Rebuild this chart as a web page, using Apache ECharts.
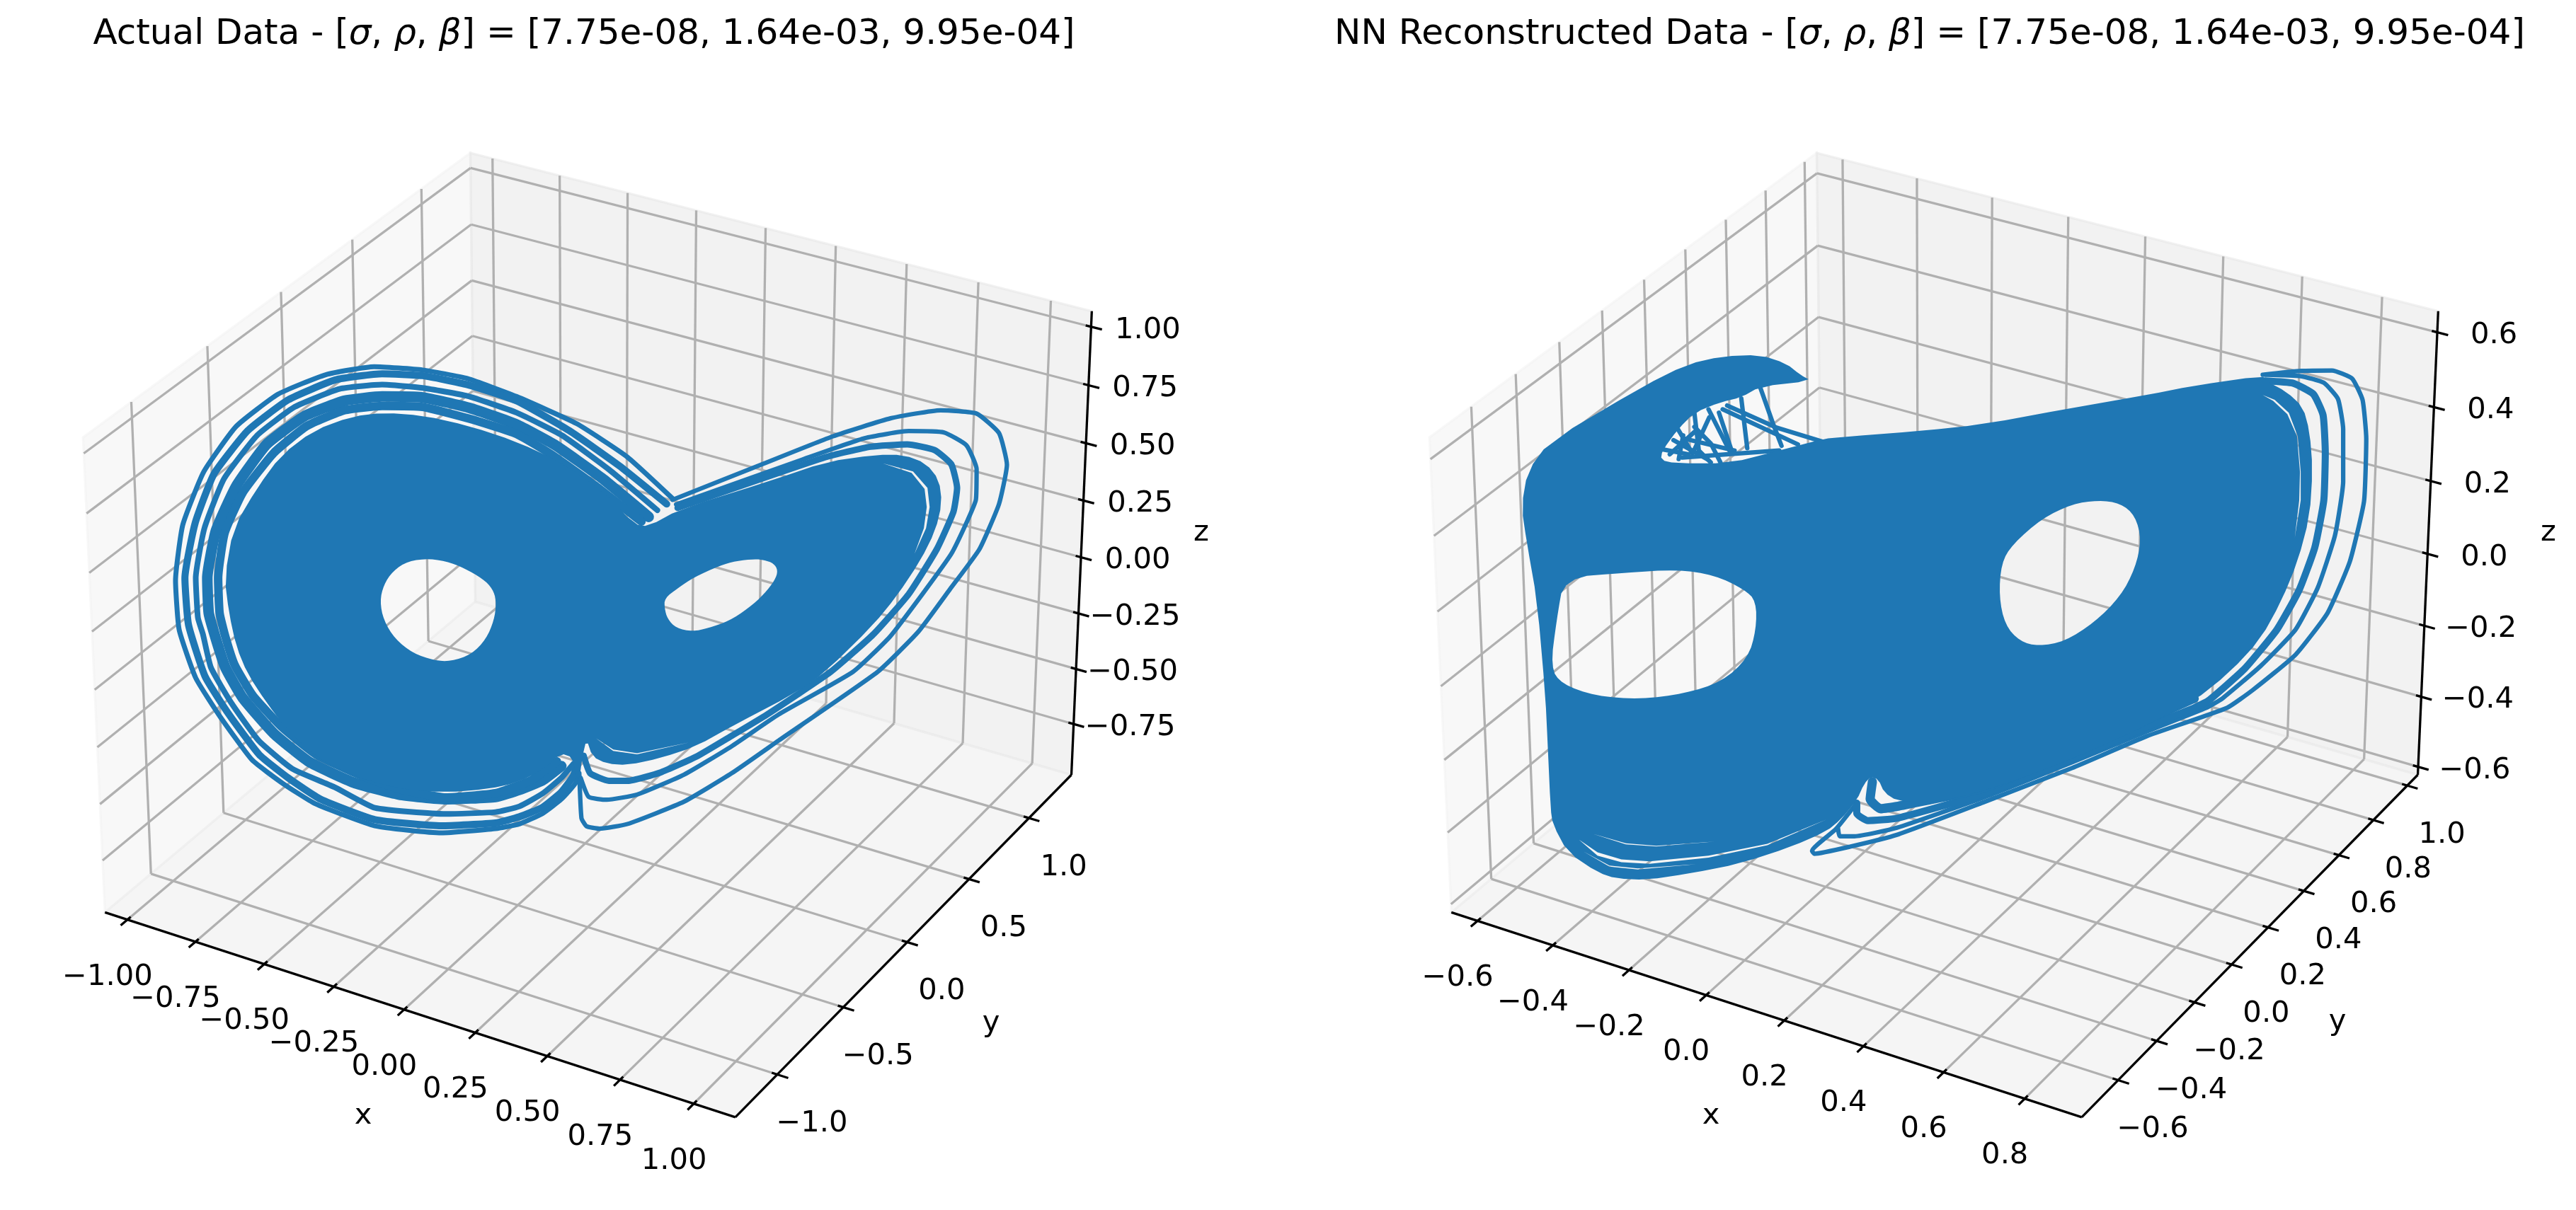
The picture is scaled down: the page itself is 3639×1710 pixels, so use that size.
<!DOCTYPE html>
<html><head><meta charset="utf-8">
<style>html,body{margin:0;padding:0;background:#fff}#c{width:3639px;height:1710px}</style>
<script src="https://cdn.jsdelivr.net/npm/echarts@6/dist/echarts.min.js"></script>
</head><body><div id="c"></div>
<script>
// ---- axis data ----
const titleLeft = 'Actual Data - [{i|σ}, {i|ρ}, {i|β}] = [7.75e-08, 1.64e-03, 9.95e-04]';
const titleRight = 'NN Reconstructed Data - [{i|σ}, {i|ρ}, {i|β}] = [7.75e-08, 1.64e-03, 9.95e-04]';
const leftXTicks = [-1, -0.75, -0.5, -0.25, 0, 0.25, 0.5, 0.75, 1];
const leftYTicks = [-1, -0.5, 0, 0.5, 1];
const leftZTicks = [-0.75, -0.5, -0.25, 0, 0.25, 0.5, 0.75, 1];
const leftXLim = [-1.083, 1.140], leftYLim = [-1.309, 1.364], leftZLim = [-0.983, 1.066];
const rightXTicks = [-0.6, -0.4, -0.2, 0, 0.2, 0.4, 0.6, 0.8];
const rightYTicks = [-0.6, -0.4, -0.2, 0, 0.2, 0.4, 0.6, 0.8, 1];
const rightZTicks = [-0.6, -0.4, -0.2, 0, 0.2, 0.4, 0.6];
const rightXLim = [-0.670, 0.939], rightYLim = [-0.785, 1.063], rightZLim = [-0.623, 0.656];

// ---- trajectory in view-plane units (projected image of the 3D curve) ----
const leftMass = [[780,838],[740,772],[680,708],[617,663],[552,630],[487,608],[434,602],[389,610],[336,640],[291,692],[258,761],[225,846],[213,951],[219,1025],[229,1095],[245,1154],[271,1214],[301,1274],[340,1329],[389,1368],[454,1396],[519,1404],[578,1396],[618,1383],[653,1356],[678,1321],[695,1330],[699,1368],[704,1378],[708,1330],[714,1291],[722,1328],[742,1343],[771,1346],[817,1331],[866,1306],[915,1264],[1003,1194],[1045,1149],[1111,1050],[1143,990],[1176,915],[1197,851],[1206,793],[1202,744],[1184,709],[1153,691],[1114,691],[1045,706],[973,744],[843,806],[800,842]];
const leftHoleA = [[497,910],[467,915],[446,936],[433,966],[428,1000],[433,1040],[449,1080],[474,1110],[503,1125],[526,1127],[555,1112],[575,1080],[586,1040],[589,1005],[586,980],[575,958],[552,936],[526,918]];
const leftHoleB = [[947,911],[921,915],[898,925],[862,950],[840,973],[822,994],[822,1015],[826,1037],[838,1057],[861,1064],[882,1057],[911,1042],[938,1015],[960,985],[975,955],[979,935],[973,920],[960,913]];
const leftSliverA = [[1124,709],[1166,726],[1186,761],[1189,801],[1184,846],[1168,900],[1181,846],[1185,801],[1182,763],[1164,729]];
const leftSliverB = [[727,1289],[751,1316],[784,1323],[856,1298],[784,1321],[751,1313]];
const leftBandA = [[833,783],[770,695],[700,625],[617,568],[549,530],[487,512],[420,505],[353,522],[287,563],[229,631],[184,727],[155,839],[145,956],[150,1060],[173,1162],[206,1242],[251,1335],[293,1384],[338,1427],[421,1474],[513,1489],[588,1480],[621,1470],[653,1448],[679,1418],[699,1383],[702,1343]];
const leftBandB = [[825,795],[760,715],[690,640],[617,577],[549,543],[487,524],[431,520],[366,533],[301,575],[245,640],[198,732],[172,836],[158,951],[163,1050],[186,1159],[219,1239],[261,1324],[301,1373],[346,1418],[421,1461],[513,1474],[588,1468],[621,1455],[653,1435],[679,1403],[696,1368],[702,1333]];
const leftBandC = [[812,808],[745,722],[680,650],[617,602],[549,567],[487,550],[431,543],[372,552],[310,590],[258,650],[212,742],[185,846],[173,951],[176,1035],[183,1070],[194,1140],[222,1214],[260,1294],[307,1354],[366,1393],[421,1436],[519,1449],[588,1445],[621,1433],[653,1406],[679,1373],[696,1343]];
const leftBandD = [[800,822],[735,740],[670,670],[617,627],[552,592],[487,570],[431,568],[379,577],[323,610],[271,669],[229,757],[201,851],[189,951],[191,1025],[201,1080],[214,1140],[238,1204],[281,1279],[330,1339],[392,1383],[454,1408],[519,1418],[588,1413],[621,1398],[653,1378],[679,1348]];
const leftBandE = [[790,832],[725,755],[665,690],[617,647],[552,615],[487,590],[431,588],[379,597],[327,630],[281,687],[238,771],[213,856],[204,951],[206,1025],[214,1075],[227,1135],[252,1199],[291,1264],[340,1324],[402,1368],[454,1396],[519,1414],[588,1405],[637,1378],[673,1338]];
const leftWing1 = [[704,1363],[707,1458],[714,1475],[732,1480],[771,1470],[849,1423],[915,1363],[980,1294],[1117,1149],[1173,1065],[1217,975],[1258,890],[1285,795],[1296,712],[1285,645],[1254,604],[1204,597],[1135,614],[1055,652],[957,711],[833,786]];
const leftWing2 = [[706,1373],[717,1413],[742,1419],[784,1408],[849,1366],[915,1306],[980,1239],[1083,1149],[1134,1075],[1179,985],[1219,900],[1241,831],[1253,786],[1254,721],[1240,671],[1209,644],[1160,641],[1099,656],[1013,701],[838,796]];
const leftWing3 = [[710,1326],[719,1363],[745,1379],[771,1379],[817,1361],[866,1328],[915,1284],[964,1239],[1052,1149],[1111,1070],[1160,985],[1199,890],[1222,811],[1227,761],[1219,711],[1196,681],[1158,669],[1107,674],[1045,696],[840,803]];

const rightMass = [[1156,524],[1064,545],[1000,565],[900,592],[780,627],[700,640],[589,654],[567,657],[507,682],[440,709],[367,709],[348,702],[350,682],[371,637],[393,602],[428,580],[456,570],[481,547],[550,535],[535,522],[516,498],[481,480],[431,483],[383,500],[323,547],[198,664],[169,726],[161,801],[168,876],[182,1000],[193,1200],[196,1299],[200,1438],[203,1471],[223,1530],[264,1573],[288,1585],[329,1588],[386,1575],[456,1553],[523,1518],[570,1486],[590,1460],[611,1420],[621,1385],[630,1370],[640,1376],[648,1404],[665,1421],[700,1425],[750,1415],[840,1370],[950,1300],[1060,1215],[1112,1150],[1153,1080],[1181,1000],[1203,916],[1219,821],[1223,722],[1219,642],[1210,590],[1188,558],[1160,535]];
const rightHoleA = [[218,950],[300,940],[370,933],[420,945],[460,975],[476,1000],[476,1060],[465,1120],[430,1170],[380,1195],[320,1207],[260,1200],[215,1175],[200,1140],[208,1040]];
const rightHoleB = [[935,787],[900,795],[860,825],[820,880],[805,920],[802,990],[810,1050],[830,1085],[855,1095],[890,1085],[930,1045],[965,990],[985,930],[993,870],[985,820],[965,793]];
const rightSliverA = [[238,1503],[263,1530],[295,1545],[333,1549],[412,1537],[491,1512],[570,1461],[491,1515],[412,1541],[333,1554],[295,1551],[263,1537]];
const rightSliverB = [[257,1491],[301,1511],[342,1516],[421,1507],[342,1517.5],[301,1513]];
const rightSliverC = [[244,1528],[279,1558],[317,1564],[396,1555],[317,1566],[279,1560]];
const rightSliverD = [[1156,565],[1172,575],[1191,602],[1203,652],[1207,727],[1207,787],[1199,866],[1205,787],[1206,727],[1202,652],[1189,605],[1170,577]];
const rightWing1 = [[611,1426],[583,1481],[551,1527],[554,1533],[602,1518],[665,1493],[780,1425],[900,1352],[1000,1285],[1108,1225],[1143,1187],[1200,1113],[1243,1025],[1273,916],[1292,789],[1295,657],[1290,575],[1276,530],[1249,513],[1207,514],[1156,522]];
const rightWing2 = [[586,1481],[588,1496],[608,1496],[665,1478],[780,1415],[900,1340],[1000,1275],[1080,1225],[1102,1205],[1153,1137],[1200,1060],[1230,971],[1253,861],[1264,747],[1264,637],[1257,573],[1238,539],[1207,525],[1160,522]];
const rightWing3 = [[611,1426],[611,1448],[626,1463],[665,1458],[780,1407],[900,1333],[1000,1265],[1064,1225],[1083,1210],[1132,1142],[1175,1060],[1205,976],[1226,886],[1238,787],[1240,687],[1237,607],[1224,563],[1197,540],[1159,535]];
const rightWing4 = [[632,1381],[629,1418],[643,1438],[665,1433],[780,1395],[900,1318],[1000,1250],[1064,1205]];
const rightStrands = [
  [[481,547],[499,627],[510,672]], [[437,587],[504,634],[567,664]], [[431,595],[532,669]],
  [[456,572],[464,677]], [[412,595],[440,682]], [[393,602],[399,682],[415,707]],
  [[426,602],[443,682]], [[413,612],[391,687]], [[371,637],[390,687]], [[380,657],[447,682]],
  [[393,632],[415,667],[428,707]], [[377,697],[507,682]],
  [[360,690],[395,640]], [[352,680],[385,690]], [[365,660],[410,700]], [[378,650],[372,700]]
];

// ---- matplotlib-style 3D camera (elev 30, azim -60, dist 10, box 4:4:3) ----
const U = [0.8660254, 0.5, 0], V = [-0.25, 0.4330127, 0.8660254], W = [0.4330127, -0.75, 0.5];
const BOX = [1.1428, 1.1428, 0.8571], DIST = 10, SCALE = 8930;
const dot = (a, b) => a[0]*b[0] + a[1]*b[1] + a[2]*b[2];
function makeProj(cx, cy, xl, yl, zl) {
  return function (x, y, z) {
    const p = [((x-xl[0])/(xl[1]-xl[0])-0.5)*BOX[0], ((y-yl[0])/(yl[1]-yl[0])-0.5)*BOX[1], ((z-zl[0])/(zl[1]-zl[0])-0.5)*BOX[2]];
    const d = DIST - dot(W, p);
    return [cx + SCALE*dot(U, p)/d, cy - SCALE*dot(V, p)/d];
  };
}
const GRID_C = '#b0b0b0', FONT = '"DejaVu Sans"', TICK_PX = 41.67;
const panes = [], gridSegs = [], axisSegs = [], texts = [];
function fmt(v, dec) { return (v < 0 ? '\u2212' : '') + Math.abs(v).toFixed(dec); }
function buildPanel(cx, cy, xl, yl, zl, xt, yt, zt, decX, decY, decZ, lblX, lblY, lblZ) {
  const P = makeProj(cx, cy, xl, yl, zl);
  const [x0, x1] = xl, [y0, y1] = yl, [z0, z1] = zl;
  panes.push({pts:[P(x0,y0,z0),P(x0,y1,z0),P(x0,y1,z1),P(x0,y0,z1)], c:'rgba(242,242,242,0.5)'});
  panes.push({pts:[P(x0,y1,z0),P(x1,y1,z0),P(x1,y1,z1),P(x0,y1,z1)], c:'rgba(230,230,230,0.5)'});
  panes.push({pts:[P(x0,y0,z0),P(x1,y0,z0),P(x1,y1,z0),P(x0,y1,z0)], c:'rgba(236,236,236,0.5)'});
  const seg = (a, b) => gridSegs.push([a[0], a[1], b[0], b[1]]);
  const aseg = (a, b) => axisSegs.push([a[0], a[1], b[0], b[1]]);
  const dx = x1-x0, dy = y1-y0;
  xt.forEach(v => {
    seg(P(v,y0,z0), P(v,y1,z0)); seg(P(v,y1,z0), P(v,y1,z1));
    aseg(P(v,y0-dy/60,z0), P(v,y0+dy/120,z0));
    const t = P(v,y0,z0); texts.push([t[0]-28, t[1]+81, fmt(v,decX)]);
  });
  yt.forEach(v => {
    seg(P(x1,v,z0), P(x0,v,z0)); seg(P(x0,v,z0), P(x0,v,z1));
    aseg(P(x1+dx/60,v,z0), P(x1-dx/120,v,z0));
    const t = P(x1,v,z0); texts.push([t[0]+49, t[1]+70, fmt(v,decY)]);
  });
  zt.forEach(v => {
    seg(P(x0,y0,v), P(x0,y1,v)); seg(P(x0,y1,v), P(x1,y1,v));
    aseg(P(x1+dx/60,y1,v), P(x1-dx/120,y1,v));
    const t = P(x1,y1,v); texts.push([t[0]+80, t[1]+5, fmt(v,decZ)]);
  });
  aseg(P(x0,y0,z0), P(x1,y0,z0)); aseg(P(x1,y0,z0), P(x1,y1,z0)); aseg(P(x1,y1,z0), P(x1,y1,z1));
  texts.push([lblX[0], lblX[1], 'x'], [lblY[0], lblY[1], 'y'], [lblZ[0], lblZ[1], 'z']);
}
buildPanel(843, 866, leftXLim, leftYLim, leftZLim, leftXTicks, leftYTicks, leftZTicks, 2, 1, 2, [513,1577], [1400,1446], [1697,753]);
buildPanel(2745, 866, rightXLim, rightYLim, rightZLim, rightXTicks, rightYTicks, rightZTicks, 1, 1, 1, [2417,1577], [3302,1444], [3600,753]);

// ---- render-time helpers ----
function chaikin(r, n) { // rounds the drawn outline only
  for (let k = 0; k < n; k++) {
    const o = [];
    r.forEach((p, i) => { const q = r[(i+1)%r.length];
      o.push([0.75*p[0]+0.25*q[0], 0.75*p[1]+0.25*q[1]], [0.25*p[0]+0.75*q[0], 0.25*p[1]+0.75*q[1]]); });
    r = o;
  }
  return r;
}
const area = r => r.reduce((s, p, i) => { const q = r[(i+1)%r.length]; return s + p[0]*q[1]-q[0]*p[1]; }, 0);
const BLUE = '#1f77b4';
function massSeries(name, xi, outer, holes, slivers) {
  const o = chaikin(outer, 1);
  const sign = area(o) > 0;
  const orient = r => (area(r) > 0) === sign ? r.slice().reverse() : r;
  const rings = [o].concat(holes.map(h => orient(chaikin(h, 2))), slivers.map(s => orient(s)));
  return {type:'custom', name, xAxisIndex:xi, yAxisIndex:xi, coordinateSystem:'cartesian2d', z:4, silent:true, clip:false,
    encode:{x:0,y:1}, data:outer,
    renderItem(p, api) {
      if (p.dataIndex !== 0) return null;
      let d = '', x0 = 1e9, y0 = 1e9, x1 = -1e9, y1 = -1e9;
      rings.forEach(r => {
        r.forEach((q, i) => { const c = api.coord(q);
          x0 = Math.min(x0,c[0]); y0 = Math.min(y0,c[1]); x1 = Math.max(x1,c[0]); y1 = Math.max(y1,c[1]);
          d += (i ? 'L' : 'M') + c[0].toFixed(2) + ' ' + c[1].toFixed(2); });
        d += 'Z';
      });
      return {type:'path', shape:{pathData:d, x:x0, y:y0, width:x1-x0, height:y1-y0, layout:'cover'}, style:{fill:BLUE}};
    }};
}
function lineSeries(name, xi, pts, width, smooth) {
  return {type:'line', name, xAxisIndex:xi, yAxisIndex:xi, data:pts, symbol:'none', smooth:smooth, clip:false, z:3, silent:true,
    lineStyle:{color:BLUE, width, join:'round', cap:'round'}};
}
const segSeries = (data, color, width, z) => ({type:'custom', coordinateSystem:'cartesian2d', xAxisIndex:0, yAxisIndex:0, z, silent:true, clip:false, data,
  renderItem(p, api) {
    const a = api.coord([api.value(0), api.value(1)]), b = api.coord([api.value(2), api.value(3)]);
    return {type:'line', shape:{x1:a[0],y1:a[1],x2:b[0],y2:b[1]}, style:{stroke:color, lineWidth:width}};
  }});

const series = [
  {type:'custom', coordinateSystem:'cartesian2d', xAxisIndex:0, yAxisIndex:0, z:1, silent:true, clip:false,
   data:panes.map((_, i) => [i, 0]),
   renderItem(p, api) { const P = panes[p.dataIndex];
     return {type:'polygon', shape:{points:P.pts.map(q => api.coord(q))}, style:{fill:P.c, stroke:P.c, lineWidth:3.3}}; }},
  segSeries(gridSegs, GRID_C, 3.3, 2),
  segSeries(axisSegs, '#000', 3.3, 2),
  {type:'custom', coordinateSystem:'cartesian2d', xAxisIndex:0, yAxisIndex:0, z:5, silent:true, clip:false,
   data:texts.map((t, i) => [t[0], t[1], i]),
   renderItem(p, api) { const t = texts[p.dataIndex]; const a = api.coord([t[0], t[1]]);
     return {type:'text', style:{text:t[2], x:a[0], y:a[1], align:'center', verticalAlign:'middle', fill:'#000', font:TICK_PX+'px '+FONT}}; }},
  massSeries('leftMass', 1, leftMass, [leftHoleA, leftHoleB], [leftSliverA, leftSliverB]),
  massSeries('rightMass', 2, rightMass, [rightHoleA, rightHoleB], [rightSliverA, rightSliverB, rightSliverC, rightSliverD])
];
[[leftBandA,7],[leftBandB,10],[leftBandC,8],[leftBandD,15],[leftBandE,12],[leftWing1,6.25],[leftWing2,6.25],[leftWing3,9]].forEach((l, i) => series.push(lineSeries('left'+i, 1, l[0], l[1], 0.15)));
[[rightWing1,6.25],[rightWing2,6.25],[rightWing3,10],[rightWing4,13]].forEach((l, i) => series.push(lineSeries('right'+i, 2, l[0], l[1], 0.15)));
rightStrands.forEach((l, i) => series.push(lineSeries('strand'+i, 2, l, 6.25, false)));

const hidden = (min, max, inverse, idx) => ({type:'value', min, max, inverse, show:false, gridIndex:idx, scale:true});
const titleStyle = {fontFamily:FONT, fontSize:50, fontWeight:'normal', color:'#000', rich:{i:{fontFamily:FONT, fontSize:50, fontStyle:'italic', color:'#000'}}};
const chart = echarts.init(document.getElementById('c'), null, {renderer:'canvas', width:3639, height:1710, devicePixelRatio:1});
chart.setOption({
  animation:false, backgroundColor:'#fff',
  title:[
    {text:titleLeft, left:825, top:24, textAlign:'center', textStyle:titleStyle, padding:0},
    {text:titleRight, left:2726, top:24, textAlign:'center', textStyle:titleStyle, padding:0}
  ],
  grid:[
    {left:0, top:0, width:3639, height:1710},
    {left:100, top:180, width:1600, height:1050},
    {left:1980, top:180, width:1650, height:1050}
  ],
  xAxis:[hidden(0,3639,false,0), hidden(0,1568,false,1), hidden(0,1568,false,2)],
  yAxis:[hidden(0,1710,true,0), hidden(0,1568,true,1), hidden(0,1568,true,2)],
  series
});
</script></body></html>
